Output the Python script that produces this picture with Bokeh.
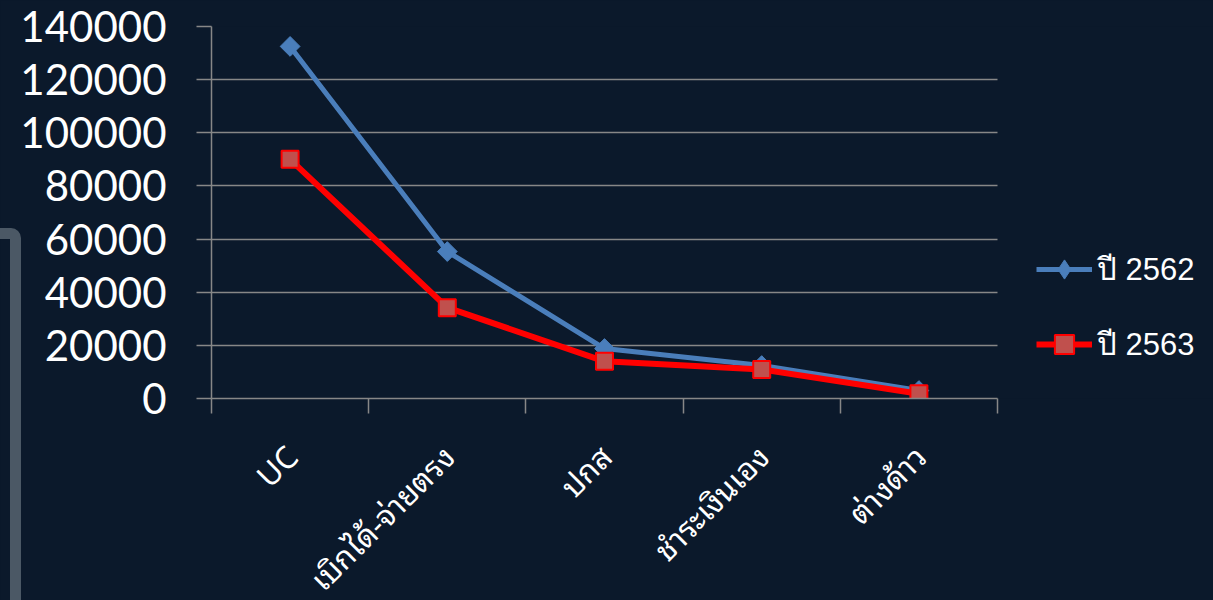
import math
from bokeh.plotting import figure
from bokeh.models import (Range1d, FixedTicker, Legend, LegendItem,
                          NumeralTickFormatter, CustomJSTickFormatter)
from bokeh.embed import file_html
from bokeh.resources import INLINE

# ---------------- data ----------------
categories = ["UC", "เบิกได้-จ่ายตรง", "ปกส", "ชำระเงินเอง", "ต่างด้าว"]
y2562 = [132500, 55300, 18800, 12400, 3000]
y2563 = [90000, 34200, 14000, 10900, 1800]
series_names = ["ปี 2562", "ปี 2563"]
y_ticks = [0, 20000, 40000, 60000, 80000, 100000, 120000, 140000]

# ---------------- style / layout ----------------
BG = "#0b192b"
GRID = "#878787"
BLUE = "#4a7ebb"
RED = "#ff0000"
RED_FILL = "#c0504d"
THAI_FONT = "'Noto Sans Thai Looped', Loma, 'Noto Sans'"

n = len(categories)
xs = [i + 0.5 for i in range(n)]

PLOT_W = 786          # pixel width of the category area
FRAME_W = 1002        # frame extends to the right edge so the legend fits inside
x_end = n * FRAME_W / PLOT_W

p = figure(frame_width=FRAME_W, frame_height=372, output_backend="svg",
           toolbar_location=None,
           x_range=Range1d(0, x_end), y_range=Range1d(0, 140000),
           min_border_left=211, min_border_right=0, min_border_top=26,
           min_border_bottom=0,
           background_fill_color=BG, border_fill_color=BG, outline_line_color=None)

# y axis
p.yaxis.ticker = FixedTicker(ticks=y_ticks)
p.yaxis.formatter = NumeralTickFormatter(format="0")
p.yaxis.axis_line_color = GRID
p.yaxis.axis_line_width = 1.5
p.yaxis.major_tick_line_color = GRID
p.yaxis.major_tick_line_width = 1.5
p.yaxis.major_tick_out = 15
p.yaxis.major_tick_in = 0
p.yaxis.minor_tick_out = 0
p.yaxis.minor_tick_in = 0
p.yaxis.major_label_text_font = "Lato"
p.yaxis.major_label_text_font_size = "42px"
p.yaxis.major_label_text_color = "white"
p.yaxis.major_label_standoff = 30

# x axis: labels at category centres, boundary ticks as minor ticks
p.xaxis.bounds = (0, n)
p.xaxis.ticker = FixedTicker(ticks=xs, minor_ticks=list(range(n + 1)))
p.xaxis.formatter = CustomJSTickFormatter(
    args=dict(cats=categories),
    code="const i = Math.floor(tick); return (i >= 0 && i < cats.length) ? cats[i] : '';")
p.xaxis.axis_line_color = GRID
p.xaxis.axis_line_width = 1.5
p.xaxis.major_tick_out = 0
p.xaxis.major_tick_in = 0
p.xaxis.minor_tick_line_color = GRID
p.xaxis.minor_tick_line_width = 1.5
p.xaxis.minor_tick_out = 15
p.xaxis.minor_tick_in = 0
p.xaxis.major_label_orientation = math.pi / 4
p.xaxis.major_label_text_font = THAI_FONT
p.xaxis.major_label_text_font_size = "31px"
p.xaxis.major_label_text_color = "white"
p.xaxis.major_label_standoff = 36

p.xgrid.grid_line_color = None
p.ygrid.grid_line_color = GRID
p.ygrid.grid_line_width = 1.5
try:
    p.ygrid.cross_bounds = (0, n)
except Exception:
    pass

# series
r1 = p.line(xs, y2562, line_color=BLUE, line_width=5)
d1 = p.scatter(xs, y2562, marker="diamond", size=18,
               fill_color=BLUE, line_color=BLUE)
m1 = p.scatter(xs, y2562, marker="square", angle=math.pi / 4, size=14,
               fill_color=BLUE, line_color=BLUE)
r2 = p.line(xs, y2563, line_color=RED, line_width=6)
m2 = p.scatter(xs, y2563, marker="square", size=17, fill_color=RED_FILL,
               line_color=RED, line_width=2)

legend = Legend(items=[LegendItem(label=series_names[0], renderers=[r1, d1]),
                       LegendItem(label=series_names[1], renderers=[r2, m2])],
                location=(825, 29), orientation="vertical",
                background_fill_alpha=0, border_line_color=None,
                label_text_color="white", label_text_font="Liberation Sans",
                label_text_font_size="31px", glyph_width=56, glyph_height=48,
                label_height=48, spacing=25, padding=0, margin=0,
                label_standoff=5)
p.add_layout(legend)

try:
    from bokeh.core.templates import FILE
    tmpl = FILE.environment.from_string(
        '{% extends "file.html" %}'
        '{% block preamble %}<style>html,body{margin:0;padding:0;'
        'background:#0b192b;overflow:hidden;}</style>{% endblock %}'
        '{% block inner_body %}{{ super() }}'
        '<div style="position:absolute;left:-51px;top:228px;width:50px;'
        'height:500px;border:11px solid #4b5865;border-radius:10px;"></div>'
        '{% endblock %}')
    html = file_html(p, INLINE, template=tmpl)
except Exception:
    html = file_html(p, INLINE)

open("out.html", "w").write(html)
